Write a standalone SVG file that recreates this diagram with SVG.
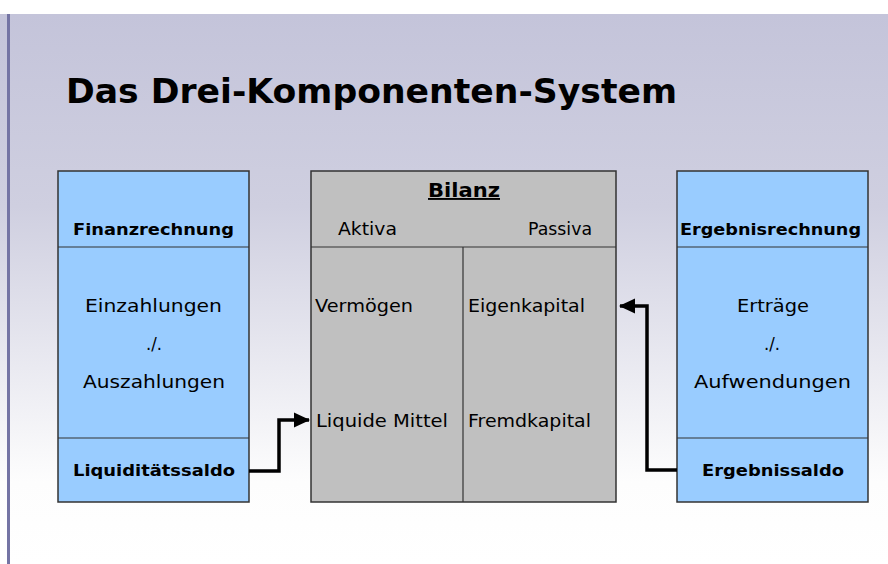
<svg xmlns="http://www.w3.org/2000/svg" width="888" height="564" viewBox="0 0 888 564">
<defs>
<linearGradient id="bg" x1="0" y1="0" x2="0" y2="1">
<stop offset="0" stop-color="#c4c4da"/>
<stop offset="0.35" stop-color="#cfcfe0"/>
<stop offset="0.85" stop-color="#fdfdfd"/>
<stop offset="1" stop-color="#ffffff"/>
</linearGradient>
<marker id="ah" markerWidth="16" markerHeight="16" refX="15" refY="8" orient="auto" markerUnits="userSpaceOnUse" viewBox="0 0 16 16">
<path d="M0,0.5 L16,8 L0,15.5 z" fill="#000"/>
</marker>
<style>
.t{font-family:"DejaVu Sans","Open Sans",sans-serif;fill:#000}
.b{font-weight:bold;font-size:16px}
.n{font-size:18px}
.blue{fill:#99ccff;stroke:#333;stroke-width:1.5}
.grey{fill:#c0c0c0;stroke:#333;stroke-width:1.5}
.ln{stroke:#333;stroke-width:1.2}
.con{fill:none;stroke:#000;stroke-width:3.5}
</style>
</defs>
<rect x="0" y="0" width="888" height="564" fill="#fff"/>
<rect x="0" y="14" width="888" height="550" fill="url(#bg)"/>
<rect x="7" y="14" width="3" height="550" fill="#7474a4"/>
<text class="t" x="66" y="103" font-size="33" font-weight="bold" textLength="611" lengthAdjust="spacingAndGlyphs">Das Drei-Komponenten-System</text>

<g id="finanzrechnung">
<rect class="blue" x="58" y="171" width="191" height="331"/>
<line class="ln" x1="58" y1="247" x2="249" y2="247"/>
<line class="ln" x1="58" y1="438" x2="249" y2="438"/>
<text class="t b" x="73" y="235" textLength="161" lengthAdjust="spacingAndGlyphs">Finanzrechnung</text>
<text class="t n" x="85" y="312" textLength="137" lengthAdjust="spacingAndGlyphs">Einzahlungen</text>
<text class="t n" x="146" y="350" textLength="16" lengthAdjust="spacingAndGlyphs">./.</text>
<text class="t n" x="83" y="388" textLength="142" lengthAdjust="spacingAndGlyphs">Auszahlungen</text>
<text class="t b" x="73" y="476" textLength="162" lengthAdjust="spacingAndGlyphs">Liquiditätssaldo</text>
</g>

<g id="bilanz">
<rect class="grey" x="311" y="171" width="305" height="331"/>
<line class="ln" x1="311" y1="247" x2="616" y2="247"/>
<line class="ln" x1="463" y1="247" x2="463" y2="502"/>
<text class="t" x="428" y="197" font-weight="bold" font-size="19" text-decoration="underline" textLength="72" lengthAdjust="spacingAndGlyphs">Bilanz</text>
<text class="t n" x="338" y="235" textLength="59" lengthAdjust="spacingAndGlyphs">Aktiva</text>
<text class="t n" x="528" y="235" textLength="64" lengthAdjust="spacingAndGlyphs">Passiva</text>
<text class="t n" x="315" y="312" textLength="98" lengthAdjust="spacingAndGlyphs">Vermögen</text>
<text class="t n" x="468" y="312" textLength="117" lengthAdjust="spacingAndGlyphs">Eigenkapital</text>
<text class="t n" x="316" y="427" textLength="132" lengthAdjust="spacingAndGlyphs">Liquide Mittel</text>
<text class="t n" x="468" y="427" textLength="123" lengthAdjust="spacingAndGlyphs">Fremdkapital</text>
</g>

<g id="ergebnisrechnung">
<rect class="blue" x="677" y="171" width="191" height="331"/>
<line class="ln" x1="677" y1="247" x2="868" y2="247"/>
<line class="ln" x1="677" y1="438" x2="868" y2="438"/>
<text class="t b" x="680" y="235" textLength="181" lengthAdjust="spacingAndGlyphs">Ergebnisrechnung</text>
<text class="t n" x="737" y="312" textLength="72" lengthAdjust="spacingAndGlyphs">Erträge</text>
<text class="t n" x="764" y="350" textLength="16" lengthAdjust="spacingAndGlyphs">./.</text>
<text class="t n" x="694" y="388" textLength="157" lengthAdjust="spacingAndGlyphs">Aufwendungen</text>
<text class="t b" x="702" y="476" textLength="142" lengthAdjust="spacingAndGlyphs">Ergebnissaldo</text>
</g>

<g id="connectors">
<path class="con" d="M249,471 H279 V420 H309" marker-end="url(#ah)"/>
<path class="con" d="M677,470 H647 V306 H620" marker-end="url(#ah)"/>
</g>
</svg>
